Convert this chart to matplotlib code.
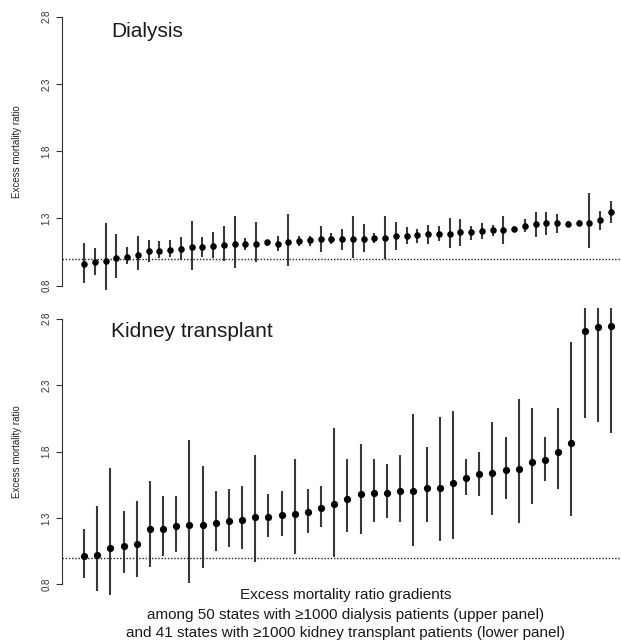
import matplotlib
matplotlib.use("Agg")
import matplotlib.pyplot as plt
import numpy as np

plt.rcParams['font.family'] = ['Liberation Sans', 'DejaVu Sans']

# dialysis: 50 states, sorted by ratio
dial_est = [0.962, 0.975, 0.984, 1.004, 1.016, 1.029, 1.054, 1.059, 1.066, 1.071,
            1.086, 1.086, 1.093, 1.103, 1.111, 1.111, 1.111, 1.121, 1.111, 1.123,
            1.128, 1.136, 1.148, 1.148, 1.148, 1.148, 1.150, 1.153, 1.153, 1.165,
            1.170, 1.178, 1.185, 1.185, 1.185, 1.195, 1.195, 1.203, 1.215, 1.215,
            1.222, 1.244, 1.257, 1.265, 1.265, 1.260, 1.265, 1.265, 1.284, 1.347]
dial_lo = [0.818, 0.880, 0.769, 0.856, 0.962, 0.912, 0.972, 1.004, 1.012, 0.987,
           0.917, 1.016, 1.004, 0.979, 0.930, 1.066, 0.972, 1.096, 1.059, 0.947,
           1.096, 1.096, 1.046, 1.109, 1.066, 1.004, 1.046, 1.116, 1.000, 1.066,
           1.111, 1.116, 1.111, 1.128, 1.079, 1.091, 1.136, 1.146, 1.170, 1.111,
           1.203, 1.197, 1.161, 1.178, 1.190, 1.240, 1.245, 1.079, 1.215, 1.265]
dial_hi = [1.116, 1.079, 1.265, 1.183, 1.086, 1.165, 1.141, 1.128, 1.141, 1.158,
           1.277, 1.158, 1.195, 1.240, 1.319, 1.153, 1.272, 1.141, 1.165, 1.334,
           1.165, 1.170, 1.245, 1.190, 1.222, 1.314, 1.257, 1.190, 1.314, 1.270,
           1.232, 1.220, 1.252, 1.245, 1.302, 1.295, 1.240, 1.265, 1.252, 1.314,
           1.240, 1.292, 1.347, 1.347, 1.334, 1.277, 1.284, 1.488, 1.351, 1.426]

# kidney transplant: 41 states, sorted by ratio
tx_est = [1.013, 1.020, 1.073, 1.088, 1.103, 1.216, 1.218, 1.236, 1.244, 1.246,
          1.259, 1.276, 1.284, 1.309, 1.306, 1.322, 1.329, 1.347, 1.377, 1.404,
          1.444, 1.482, 1.488, 1.490, 1.505, 1.505, 1.527, 1.527, 1.560, 1.602,
          1.628, 1.640, 1.660, 1.670, 1.723, 1.736, 1.798, 1.861, 2.707, 2.740, 2.745]
tx_lo = [0.845, 0.750, 0.700, 0.882, 0.857, 0.928, 1.013, 1.045, 0.807, 0.920,
         1.053, 1.078, 1.063, 0.965, 1.158, 1.163, 1.025, 1.183, 1.233, 1.008,
         1.196, 1.178, 1.271, 1.297, 1.271, 1.088, 1.271, 1.128, 1.138, 1.472,
         1.465, 1.322, 1.440, 1.259, 1.402, 1.580, 1.520, 1.314, 2.054, 2.024, 1.941]
tx_hi = [1.214, 1.390, 1.673, 1.352, 1.430, 1.580, 1.465, 1.467, 1.890, 1.693,
         1.505, 1.520, 1.542, 1.773, 1.477, 1.505, 1.741, 1.520, 1.540, 1.974,
         1.741, 1.856, 1.741, 1.706, 1.773, 2.082, 1.831, 2.062, 2.105, 1.746,
         1.794, 2.024, 1.911, 2.195, 2.125, 1.907, 2.125, 2.627, 3.200, 3.200, 3.200]

yticks = [0.8, 1.3, 1.8, 2.3, 2.8]
panel_titles = ["Dialysis", "Kidney transplant"]
caption = ["Excess mortality ratio gradients",
           "among 50 states with \u22651000 dialysis patients (upper panel)",
           "and 41 states with \u22651000 kidney transplant patients (lower panel)"]

W, H = 621, 640
fig = plt.figure(figsize=(W / 100, H / 100), dpi=100)

# axes boxes in pixels: (top, bottom, xlim)
boxes = [(6, 296.3, (-1.046, 50.93)), (308, 595, (-0.67, 41.76))]
data = [(dial_est, dial_lo, dial_hi, 3.7), (tx_est, tx_lo, tx_hi, 4.2)]

for (top, bot, xl), (est, lo, hi, ms), title, ty in zip(boxes, data, panel_titles, [31.7, 331.7]):
    ax = fig.add_axes([62 / W, 1 - bot / H, (W - 62) / W, (bot - top) / H])
    x = np.arange(1, len(est) + 1)
    ax.vlines(x, lo, hi, color="#3d3838", lw=1.5)
    ax.plot(x, est, "o", color="black", ms=ms, mec="black")
    ax.axhline(1.0, color="#222222", lw=1.0, ls=(0, (1, 1.3)))
    ax.set_xlim(*xl)
    ax.set_ylim(0.72, 2.88)
    for s in ["top", "right", "bottom"]:
        ax.spines[s].set_visible(False)
    ax.spines["left"].set_bounds(0.8, 2.8)
    ax.spines["left"].set_color("#333333")
    ax.set_xticks([])
    ax.set_yticks(yticks)
    ax.set_yticklabels([str(t) for t in yticks], rotation=90, va="center", fontsize=7, color="#333333")
    ax.tick_params(axis="y", length=4.5, width=0.8, color="#333333", pad=3)
    ax.set_ylabel("Excess mortality ratio", fontsize=7, color="#222222", labelpad=14)
    ax.patch.set_alpha(0)
    fig.text(111 / W, 1 - ty / H, title, fontsize=15, va="center", ha="left", color="#1a1a1a")

for line, yy in zip(caption, [595, 615, 633]):
    fig.text(346 / W, 1 - yy / H, line, fontsize=11, ha="center", va="center", color="#1a1a1a")

fig.savefig("out.png", dpi=100)
